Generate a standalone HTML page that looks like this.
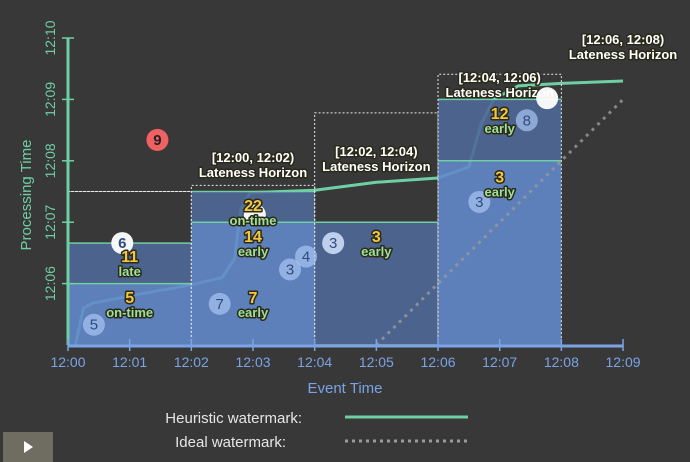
<!DOCTYPE html>
<html><head><meta charset="utf-8"><style>
html,body{margin:0;padding:0;background:#383838;}
svg{display:block;font-family:"Liberation Sans","DejaVu Sans",sans-serif;}
.lbl{font-weight:bold;paint-order:stroke;stroke:#2a2a1a;stroke-width:3px;stroke-linejoin:round;}
</style></head><body>
<svg id="c" width="690" height="462" viewBox="0 0 690 462">
<rect width="690" height="462" fill="#383838"/>
<g id="g"></g>
</svg>
<script>
const xTicks=["12:00","12:01","12:02","12:03","12:04","12:05","12:06","12:07","12:08","12:09"];
const yTicks=["12:06","12:07","12:08","12:09","12:10"];
const windowStarts=[0,2,4,6];
const lowerTop=[6,7,5,8];
const upperTop=[6.66,7.5,7,9];
const horizonTop=[7.5,7.6,8.78,9.41];
const horizonLabels=["[12:00, 12:02)","[12:02, 12:04)","[12:04, 12:06)","[12:06, 12:08)"];
const horizonLabelT=[3,5,7,9];
const horizonLabelY=[7.98,8.08,9.28,9.9];
const wmX=[0.12,0.25,0.4,1,2,2.5,2.7,2.8,2.95,4,5,6,6.5,6.7,6.9,7.3,8,9];
const wmY=[5,5.6,5.68,5.8,5.98,6.1,6.4,7.2,7.48,7.52,7.65,7.72,7.9,8.6,9.0,9.22,9.26,9.3];
const idealX=[5,9];
const idealY=[5,9];
const ptX=[0.42,0.88,2.46,3.03,3.6,3.86,4.3,6.67,7.44,7.77,1.45];
const ptY=[5.33,6.66,5.67,7.12,6.23,6.44,6.66,7.33,8.66,9.02,8.34];
const ptNum=["5","6","7","","3","4","3","3","8","","9"];
const ptKind=["b","w","b","w","b","b","d","b","b","w","r"];
const cntX=[1,1,3,3,3,5,7,7];
const cntY=[5.68,6.35,5.68,7.18,6.68,6.68,7.65,8.68];
const cntNum=["5","11","7","22","14","3","3","12"];
const cntTag=["on-time","late","early","on-time","early","early","early","early"];

const X=t=>68+t*61.67, Y=p=>345-(p-5)*61.4;
const g=document.getElementById('g');
const NS="http://www.w3.org/2000/svg";
function mk(tag,at,parent){const e=document.createElementNS(NS,tag);for(const k in at)e.setAttribute(k,at[k]);(parent||g).appendChild(e);return e;}

let d="M"+X(wmX[0])+","+Y(wmY[0]);
for(let i=1;i<wmX.length;i++){d+=" L"+X(wmX[i]).toFixed(1)+","+Y(wmY[i]).toFixed(1);}
let wm=mk('path',{d:d,fill:"none",stroke:"#6fcfa4","stroke-width":3,"stroke-linejoin":"round"});



for(let i=0;i<windowStarts.length;i++){
  const x0=X(windowStarts[i]),x1=X(windowStarts[i]+2);
  let lo=mk('rect',{x:x0,y:Y(lowerTop[i]),width:x1-x0,height:Y(5)-Y(lowerTop[i]),fill:"#6289cc","fill-opacity":0.88});
  
  
  let up=mk('rect',{x:x0,y:Y(upperTop[i]),width:x1-x0,height:Y(lowerTop[i])-Y(upperTop[i]),fill:"#4f6898","fill-opacity":0.9});
  
  
  mk('line',{x1:x0,x2:x1,y1:Y(lowerTop[i]),y2:Y(lowerTop[i]),stroke:"#6fcfa4","stroke-width":1.5});
  mk('line',{x1:x0,x2:x1,y1:Y(upperTop[i]),y2:Y(upperTop[i]),stroke:"#6fcfa4","stroke-width":1.5});
  let hb=mk('path',{d:`M${x0},${Y(5)} V${Y(horizonTop[i])} H${x1} V${Y(5)}`,fill:"none",stroke:"#e8e8e8","stroke-width":1,"stroke-dasharray":"2,2"});
  
  
}
horizonLabels.forEach((s,i)=>{
  const cx=X(horizonLabelT[i]);
  let t1=mk('text',{x:cx,y:Y(horizonLabelY[i]),"text-anchor":"middle",fill:"#fff","font-size":13,"font-weight":"bold",class:"lbl"});
  t1.textContent=s;
  
  
  let t2=mk('text',{x:cx,y:Y(horizonLabelY[i])+15,"text-anchor":"middle",fill:"#fff","font-size":13,"font-weight":"bold",class:"lbl"});
  t2.textContent="Lateness Horizon";
  
  
});
mk('line',{x1:X(0),x2:X(2),y1:Y(7.5),y2:Y(7.5),stroke:"#e8e8e8","stroke-dasharray":"2,2"});

let id=mk('line',{x1:X(idealX[0]),y1:Y(idealY[0]),x2:X(idealX[1]),y2:Y(idealY[1]),stroke:"#9a9a9a","stroke-width":3,"stroke-dasharray":"3,5","stroke-opacity":0.8});



let ya=mk('line',{x1:X(0),x2:X(0),y1:Y(10),y2:Y(5),stroke:"#6fcfa4","stroke-width":3});


let xa=mk('line',{x1:X(0),x2:X(9),y1:Y(5)+1,y2:Y(5)+1,stroke:"#7ba3e6","stroke-width":3});


xTicks.forEach((s,i)=>{
  mk('line',{x1:X(i),x2:X(i),y1:Y(5)-6,y2:Y(5)+6,stroke:"#7ba3e6","stroke-width":1.5});
  let t=mk('text',{x:X(i),y:367,"text-anchor":"middle",fill:"#7ba3e6","font-size":14});
  t.textContent=s;
  
  
});
yTicks.forEach((s,i)=>{
  const y=Y(6+i);
  mk('line',{x1:X(0)-6,x2:X(0)+6,y1:y,y2:y,stroke:"#6fcfa4","stroke-width":1.5});
  let t=mk('text',{x:0,y:0,"text-anchor":"middle",fill:"#6fcfa4","font-size":14,transform:`translate(55,${y}) rotate(-90)`});
  t.textContent=s;
  
  
});
let xt=mk('text',{x:345,y:393,"text-anchor":"middle",fill:"#7ba3e6","font-size":15});
xt.textContent="Event Time";


let yt=mk('text',{x:0,y:0,"text-anchor":"middle",fill:"#6fcfa4","font-size":15,transform:"translate(31,195) rotate(-90)"});
yt.textContent="Processing Time";



const fills={b:"#a9c6f3",w:"#ffffff",d:"#c4d6f0",r:"#f06262"};
const fops={b:0.7,w:0.95,d:0.95,r:1};
ptX.forEach((v,i)=>{
  const cx=X(v),cy=Y(ptY[i]);
  let c=mk('circle',{cx:cx,cy:cy,r:11,fill:fills[ptKind[i]],"fill-opacity":fops[ptKind[i]]});
  
  
  if(ptNum[i]){
    let t=mk('text',{x:cx,y:cy+5,"text-anchor":"middle",fill:ptKind[i]=="r"?"#222":"#2e4a80","font-size":15,"font-weight":ptKind[i]=="r"||ptKind[i]=="w"?"bold":"normal"});
    t.textContent=ptNum[i];
    
    
  }
});

cntX.forEach((v,i)=>{
  const cx=X(v),cy=Y(cntY[i]);
  let t=mk('text',{x:cx,y:cy,"text-anchor":"middle",fill:"#f5c73a","font-size":16,class:"lbl"});
  t.textContent=cntNum[i];
  
  
  let t2=mk('text',{x:cx,y:cy+14,"text-anchor":"middle",fill:"#9fe09a","font-size":13,class:"lbl"});
  t2.textContent=cntTag[i];
  
  
});

let l1=mk('text',{x:302,y:423,"text-anchor":"end",fill:"#e6e6e6","font-size":15});
l1.textContent="Heuristic watermark:";


let l1s=mk('line',{x1:345,x2:468,y1:417,y2:417,stroke:"#6fcfa4","stroke-width":3});


let l2=mk('text',{x:286,y:447,"text-anchor":"end",fill:"#e6e6e6","font-size":15});
l2.textContent="Ideal watermark:";


let l2s=mk('line',{x1:345,x2:468,y1:441,y2:441,stroke:"#9a9a9a","stroke-width":3,"stroke-dasharray":"3,4"});



let pb=mk('rect',{x:3,y:432,width:50,height:30,fill:"#6f6c62"});


mk('path',{d:"M24,441 L33,447 L24,453 Z",fill:"#fff"});
</script>
</body></html>
